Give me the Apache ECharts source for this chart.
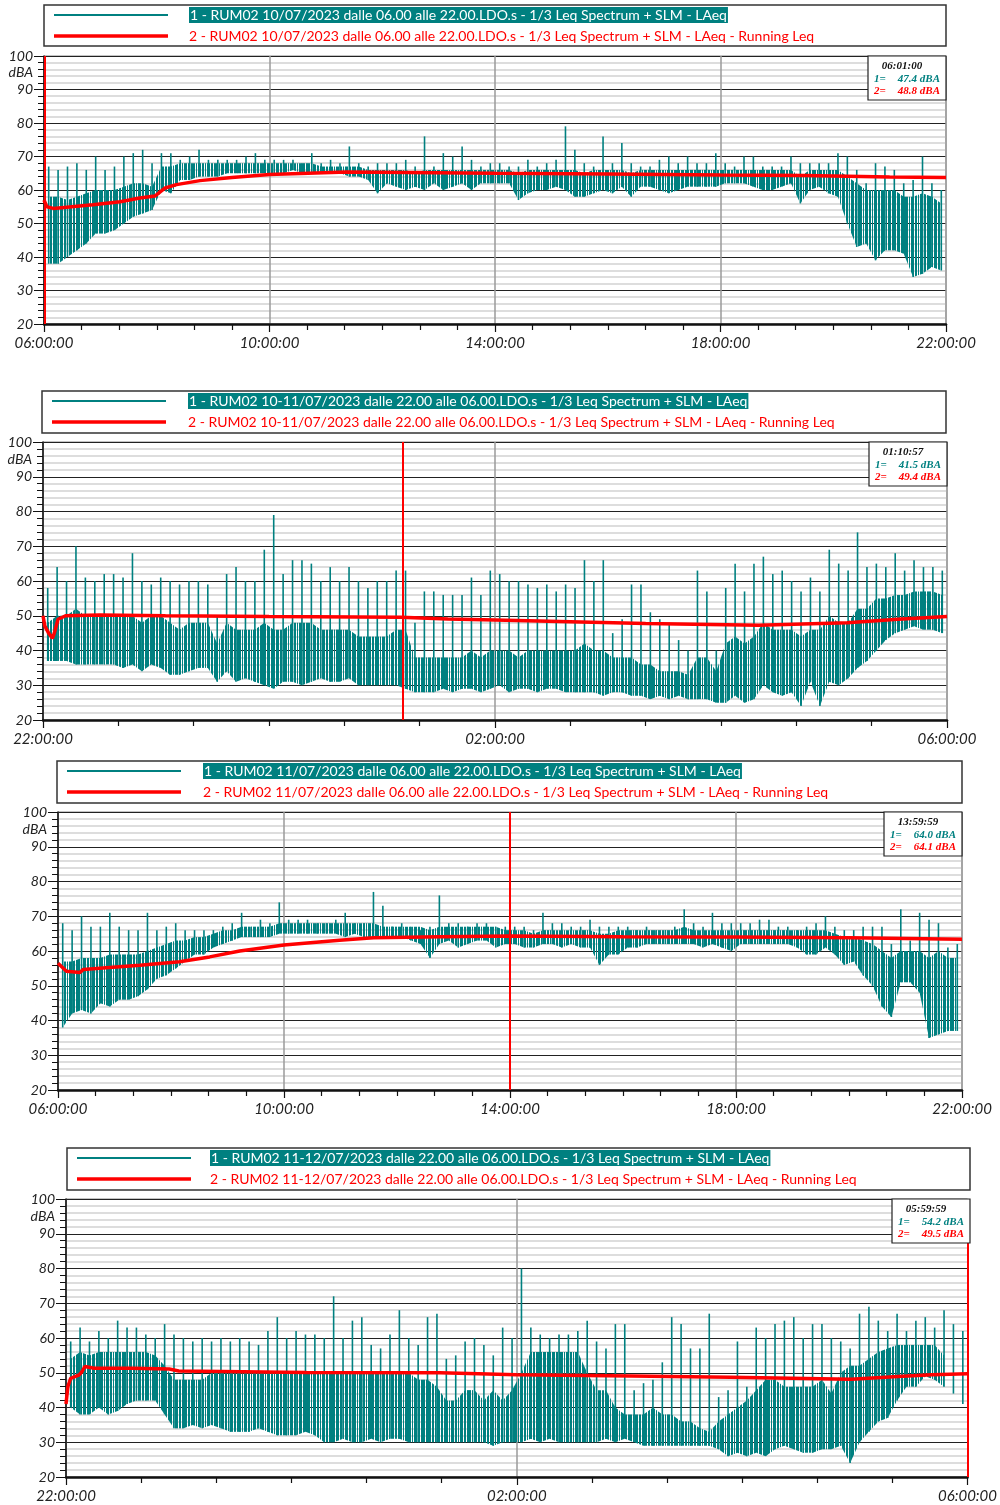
<!DOCTYPE html>
<html lang="it">
<head>
<meta charset="UTF-8">
<title>RUM02 - LAeq</title>
<script src="https://cdn.jsdelivr.net/npm/echarts@6/dist/echarts.min.js"></script>
<style>html,body{margin:0;padding:0;background:#fff}</style>
</head>
<body>
<div id="main" style="width:1000px;height:1505px;"></div>
<script>
// LAeq: max / min per intervallo (10 min di giorno, 5 min di notte)
var p1Hi = [67,66,67,68,66,70,66,67,70,71, 72,68,71,71,69,70,72,69,69,69, 69,70,71,69,69,69,69,68,71,68, 69,68,73,68,67,68,68,68,69,67, 76,67,71,70,73,69,67,68,
            68,67,67,69,67,68,69,79,72,68, 67,76,68,74,68,67,67,69,70,68, 70,68,68,71,68,67,70,70,67,67, 67,70,68,68,68,68,71,70,66,62, 68,67,66,62,63,70,62,60]
var p1Lo = [38,38,40,42,44,47,47,48,50,52, 53,54,60,59,63,63,64,64,64,65, 65,65,65,65,65,65,66,65,65,65, 65,65,64,64,63,59,62,61,60,61, 60,62,60,61,62,60,62,62,
            62,62,57,59,60,60,61,60,58,58, 59,60,59,61,58,61,61,60,59,60, 61,61,61,61,62,62,62,61,60,60, 61,62,56,60,61,59,58,50,43,44, 39,42,42,41,34,35,37,36]
// parte fitta della traccia (limite superiore)
var p1Mid = [58,58,57,58,59,60,60,60,61,62, 62,61,67,67,68,68,68,68,68,68, 68,68,68,68,68,68,68,68,68,67, 67,67,67,67,66,66,66,66,66,65, 66,66,66,66,66,66,66,66,
             66,66,65,66,66,66,66,66,66,65, 66,66,66,66,65,66,66,66,66,66, 66,66,66,66,66,66,66,66,66,66, 66,66,64,66,66,66,66,64,62,60, 60,60,60,58,58,59,58,56]
var p2Hi = [58,64,60,70,61,60,62,62,61,68, 60,59,61,60,59,60,60,59,50,62, 64,60,60,69,79,62,66,66,65,60, 64,60,64,60,58,60,60,63,63,48, 57,57,56,56,56,61,56,63,
            62,60,60,59,58,59,57,59,58,66, 60,66,45,49,59,59,51,49,48,43, 40,63,57,40,58,65,57,65,67,62, 63,60,57,61,57,69,65,63,74,64, 65,64,68,63,66,64,64,63]
var p2Lo = [37,37,37,36,36,36,36,36,35,36, 34,36,35,33,33,34,35,35,31,34, 31,32,31,30,29,31,31,30,31,32, 31,31,32,30,30,30,30,30,29,28, 28,28,29,28,29,29,28,29,
            30,28,29,29,28,29,29,28,28,28, 28,27,28,28,27,27,26,27,26,27, 26,26,26,25,25,27,25,26,30,28, 27,28,24,31,24,31,30,32,35,37, 40,43,45,46,47,46,46,45]
var p2Mid = [48,50,50,52,50,50,50,50,50,50, 48,50,50,48,46,48,48,48,42,48, 46,46,46,48,46,46,48,48,48,46, 46,46,46,44,44,44,44,46,46,38, 38,38,38,38,38,40,38,40,
             40,40,38,40,40,40,40,40,40,42, 40,40,38,38,38,36,36,34,34,34, 33,38,38,34,42,44,42,44,48,46, 46,46,44,46,46,50,48,48,52,52, 55,55,56,56,57,57,57,56]
var p3Hi = [68,66,70,67,67,71,67,66,66,71, 66,67,68,66,66,66,66,67,68,71, 67,69,68,74,69,69,69,68,68,69, 71,68,68,77,73,67,68,67,66,67, 76,68,68,67,68,68,67,67,
            67,67,66,71,68,68,67,67,69,67, 67,67,67,66,67,66,66,67,72,68, 67,71,68,68,68,68,69,69,67,67, 66,67,68,70,67,66,66,67,67,67, 62,72,63,71,69,68,61,62]
var p3Lo = [38,42,43,42,45,44,46,46,47,49, 52,53,55,57,59,59,61,62,63,64, 64,64,64,65,65,65,65,65,65,65, 64,65,64,64,64,64,64,63,62,58, 62,63,61,62,63,63,61,62,
            62,61,61,62,62,61,62,61,61,56, 59,59,61,61,62,62,62,62,62,62, 61,62,61,60,62,62,62,62,62,62, 61,59,59,61,59,56,57,53,50,44, 41,51,51,48,35,36,37,37]
var p3Mid = [57,57,58,58,58,59,59,59,59,60, 61,62,63,63,64,64,65,66,66,67, 67,67,67,68,68,68,68,68,68,68, 68,68,68,68,67,67,67,67,67,66, 67,67,67,67,67,67,67,66,
             66,66,65,66,66,66,66,66,66,65, 65,66,66,66,66,66,66,66,67,66, 66,66,66,66,66,66,66,66,66,66, 66,66,66,66,65,64,64,63,62,60, 58,60,60,60,58,60,58,58]
var p4Hi = [59,63,59,62,60,65,63,63,61,60, 64,61,60,59,60,59,60,59,60,59, 58,62,66,60,62,61,61,60,72,60, 65,66,58,57,61,68,60,58,66,67, 54,55,59,60,58,55,63,60,
            80,63,61,60,61,61,62,65,59,57, 64,64,45,47,48,53,66,64,57,57, 67,43,45,59,46,63,60,64,65,66, 60,64,64,60,59,57,67,69,65,62, 67,62,65,66,63,68,64,62]
var p4Lo = [40,38,38,40,38,39,41,42,42,42, 38,34,34,35,34,35,34,33,33,33, 34,33,32,32,32,33,32,30,30,31, 30,30,31,30,31,31,30,30,30,30, 30,30,30,30,30,29,30,30,
            30,31,30,31,30,30,30,30,30,31, 30,31,30,29,29,29,29,29,29,29, 29,28,26,27,26,27,26,28,29,28, 27,27,28,28,29,24,30,33,36,37, 42,46,46,49,48,46,44,41]
var p4Mid = [54,56,55,56,56,56,56,56,56,55, 52,48,48,48,48,50,50,50,50,50, 50,50,50,50,50,50,50,50,50,50, 50,50,50,50,50,50,50,48,48,46, 42,42,45,45,42,45,42,45,
             50,56,56,56,56,56,56,50,45,45, 40,38,38,38,40,38,38,36,36,34, 33,36,38,40,42,45,48,48,46,46, 46,46,48,44,50,52,52,54,56,57, 58,58,58,58,58,55]

// Running Leq: minuti dall'inizio e valore
var p1LeqT = [0,3,10,52,81,102,118,129,141,166,200,240,322,480,600,720,810,900,960]
var p1LeqV = [57,55,54.5,55.6,56.5,57.6,58.2,60.6,61.6,62.8,63.7,64.6,65.4,65,64.8,64.5,64.3,63.9,63.7]
var p2LeqT = [0,1,3,5,6,8,12,30,65,120,190,215,240,320,380,427,454,480]
var p2LeqV = [50,47,45,43.5,45,49,50,50.2,50,49.8,49.6,49.1,48.8,47.8,47.3,48,49,49.8]
var p3LeqT = [0,2,9,23,27,51,87,129,161,193,240,299,335,406,480,600,720,840,960]
var p3LeqV = [56.5,57,54.2,53.8,54.7,55.2,55.9,56.9,58.3,60,61.7,63.1,63.8,64.1,64.3,64.1,64,63.8,63.4]
var p4LeqT = [0,1,2.5,7,8.5,10,15,35,55,60,128,199,240,301,354,418,443,461,480]
var p4LeqV = [41,46,48.4,49.4,50.3,51.8,51.3,51.3,51.1,50.5,50.1,50,49.4,49.1,48.7,48.1,48.9,49.4,49.7]

var startHour = [6, 22, 6, 22]
var spanMin = [960, 480, 960, 480]
var cursorMin = [1, 190.95, 479.98, 479.98]
var cursorLabel = ['06:01:00', '01:10:57', '13:59:59', '05:59:59']
var cursorVal1 = ['47.4 dBA', '41.5 dBA', '64.0 dBA', '54.2 dBA']
var cursorVal2 = ['48.8 dBA', '49.4 dBA', '64.1 dBA', '49.5 dBA']
var legend1 = [
  '1 - RUM02 10/07/2023 dalle 06.00 alle 22.00.LDO.s - 1/3 Leq Spectrum + SLM - LAeq',
  '1 - RUM02 10-11/07/2023 dalle 22.00 alle 06.00.LDO.s - 1/3 Leq Spectrum + SLM - LAeq',
  '1 - RUM02 11/07/2023 dalle 06.00 alle 22.00.LDO.s - 1/3 Leq Spectrum + SLM - LAeq',
  '1 - RUM02 11-12/07/2023 dalle 22.00 alle 06.00.LDO.s - 1/3 Leq Spectrum + SLM - LAeq'
]
var legend2 = legend1.map(function (s) { return '2' + s.slice(1) + ' - Running Leq' })

var hiAll = [p1Hi, p2Hi, p3Hi, p4Hi]
var loAll = [p1Lo, p2Lo, p3Lo, p4Lo]
var midAll = [p1Mid, p2Mid, p3Mid, p4Mid]
var leqT = [p1LeqT, p2LeqT, p3LeqT, p4LeqT]
var leqV = [p1LeqV, p2LeqV, p3LeqV, p4LeqV]

var TEAL = '#008080'
var RED = '#ff0000'

var grids = [
  {left: 44, top: 56, width: 902, height: 268},
  {left: 43, top: 442, width: 904, height: 278},
  {left: 58, top: 812, width: 904, height: 278},
  {left: 66, top: 1199, width: 904, height: 278}
]
var legendBox = [
  {x: 44, y: 5, w: 902, h: 41, tx: 189},
  {x: 42, y: 391, w: 904, h: 42, tx: 188},
  {x: 57, y: 761, w: 905, h: 42, tx: 203},
  {x: 67, y: 1148, w: 903, h: 42, tx: 210}
]

// tratteggio verticale irregolare per la parte fitta
var hatch = document.createElement('canvas')
hatch.width = 23; hatch.height = 4
var hctx = hatch.getContext('2d')
hctx.fillStyle = TEAL;
[[0, 3], [4, 2], [7, 4], [12, 1], [14, 3], [18, 2], [21, 1]].forEach(function (s) { hctx.fillRect(s[0], 0, s[1], 4) })
var hatchFill = {image: hatch, repeat: 'repeat'}

function pad(n) { return (n < 10 ? '0' : '') + n }
function timeFmt(h0) {
  return function (v) {
    var m = Math.round(v)
    return pad((h0 + Math.floor(m / 60)) % 24) + ':' + pad(m % 60) + ':00'
  }
}
// un elemento per intervallo: [t, tNext, lo, loNext, mid, midNext, hi]
function traceItems(hi, lo, mid, span) {
  var step = span / hi.length
  var n = hi.length
  var out = []
  for (var i = 0; i < n; i++) {
    var j = Math.min(i + 1, n - 1)
    out.push([(i + 0.5) * step, (j + 0.5) * step, lo[i], lo[j], mid[i], mid[j], hi[i]])
  }
  return out
}
function renderTrace(params, api) {
  var a = api.coord([api.value(0), api.value(4)])
  var b = api.coord([api.value(1), api.value(5)])
  var c = api.coord([api.value(1), api.value(3)])
  var d = api.coord([api.value(0), api.value(2)])
  var top = api.coord([api.value(0), api.value(6)])
  return {type: 'group', children: [
    {type: 'polygon', shape: {points: [a, b, c, d]}, style: {fill: hatchFill}},
    {type: 'line', shape: {x1: d[0], y1: d[1], x2: top[0], y2: top[1]}, style: {stroke: TEAL, lineWidth: 1.6}}
  ]}
}

var xAxes = [], yAxes = [], series = [], graphics = []
var infoFont = 'italic bold 11px "Liberation Serif"'
grids.forEach(function (g, k) {
  xAxes.push({
    gridIndex: k, type: 'value', min: 0, max: spanMin[k], interval: 240,
    axisLine: {show: true, onZero: false, lineStyle: {color: '#111', width: 2.5}},
    axisTick: {show: true, length: 8, lineStyle: {color: '#111', width: 1.2}},
    minorTick: {show: true, splitNumber: 6, length: 6, lineStyle: {color: '#111', width: 1.2}},
    splitLine: {show: true, lineStyle: {color: '#9a9a9a', width: 1.5}},
    axisLabel: {formatter: timeFmt(startHour[k]), fontFamily: 'Lato', fontStyle: 'italic', fontSize: 15,
      color: '#222', margin: 12, showMinLabel: true, showMaxLabel: true, hideOverlap: false}
  })
  yAxes.push({
    gridIndex: k, type: 'value', min: 20, max: 100, interval: 10,
    axisLine: {show: true, lineStyle: {color: '#111', width: 1.5}},
    axisTick: {show: true, length: 10, lineStyle: {color: '#111'}},
    minorTick: {show: true, splitNumber: 5, length: 6, lineStyle: {color: '#111'}},
    splitLine: {show: true, lineStyle: {color: '#222', width: 1}},
    minorSplitLine: {show: true, lineStyle: {color: '#d2d2d2', width: 1.5}},
    axisLabel: {customValues: [20, 30, 40, 50, 60, 70, 80, 90, 95, 100],
      formatter: function (v) { return v === 95 ? 'dBA' : String(v) },
      fontFamily: 'Lato', fontStyle: 'italic', fontSize: 14, color: '#222', margin: 11}
  })
  series.push({
    type: 'custom', xAxisIndex: k, yAxisIndex: k,
    data: traceItems(hiAll[k], loAll[k], midAll[k], spanMin[k]),
    renderItem: renderTrace, encode: {x: [0, 1], y: [2, 3, 4, 5, 6]}, clip: true, silent: true, z: 2
  })
  series.push({
    type: 'line', xAxisIndex: k, yAxisIndex: k,
    data: leqT[k].map(function (t, i) { return [t, leqV[k][i]] }),
    showSymbol: false, symbol: 'none', lineStyle: {color: RED, width: 3.5}, z: 4,
    markLine: {silent: true, symbol: ['none', 'none'], label: {show: false},
      lineStyle: {color: RED, width: 2, type: 'solid'}, data: [{xAxis: cursorMin[k]}]}
  })

  // legenda
  var b = legendBox[k]
  graphics.push({type: 'rect', shape: {x: b.x, y: b.y, width: b.w, height: b.h}, style: {fill: '#fff', stroke: '#333', lineWidth: 1.5}, z: 10})
  graphics.push({type: 'line', shape: {x1: b.x + 10, y1: b.y + 10, x2: b.x + 124, y2: b.y + 10}, style: {stroke: TEAL, lineWidth: 2}, z: 11})
  graphics.push({type: 'line', shape: {x1: b.x + 10, y1: b.y + 31, x2: b.x + 124, y2: b.y + 31}, style: {stroke: RED, lineWidth: 3.5}, z: 11})
  graphics.push({type: 'text', x: b.tx, y: b.y + 10, z: 11, style: {text: legend1[k], font: '14px Lato', fill: '#fff',
    backgroundColor: TEAL, padding: [1, 1, 1, 1], verticalAlign: 'middle'}})
  graphics.push({type: 'text', x: b.tx, y: b.y + 31, z: 11, style: {text: legend2[k], font: '14px Lato', fill: RED, verticalAlign: 'middle'}})

  // riquadro cursore
  var bx = g.left + g.width - 78, by = g.top
  graphics.push({type: 'rect', shape: {x: bx, y: by, width: 78, height: 44}, style: {fill: '#fff', stroke: '#222', lineWidth: 1.2}, z: 10})
  graphics.push({type: 'text', x: bx + 34, y: by + 10, z: 11, style: {text: cursorLabel[k], font: infoFont, fill: '#111', align: 'center', verticalAlign: 'middle'}})
  graphics.push({type: 'text', x: bx + 6, y: by + 23, z: 11, style: {text: '1=', font: infoFont, fill: TEAL, verticalAlign: 'middle'}})
  graphics.push({type: 'text', x: bx + 72, y: by + 23, z: 11, style: {text: cursorVal1[k], font: infoFont, fill: TEAL, align: 'right', verticalAlign: 'middle'}})
  graphics.push({type: 'text', x: bx + 6, y: by + 35, z: 11, style: {text: '2=', font: infoFont, fill: RED, verticalAlign: 'middle'}})
  graphics.push({type: 'text', x: bx + 72, y: by + 35, z: 11, style: {text: cursorVal2[k], font: infoFont, fill: RED, align: 'right', verticalAlign: 'middle'}})
})

var chart = echarts.init(document.getElementById('main'))
chart.setOption({
  animation: false,
  backgroundColor: '#fff',
  grid: grids.map(function (g) {
    return {left: g.left, top: g.top, width: g.width, height: g.height, show: true, borderColor: '#888', borderWidth: 1, containLabel: false}
  }),
  xAxis: xAxes,
  yAxis: yAxes,
  series: series,
  graphic: graphics
})
</script>
</body>
</html>
